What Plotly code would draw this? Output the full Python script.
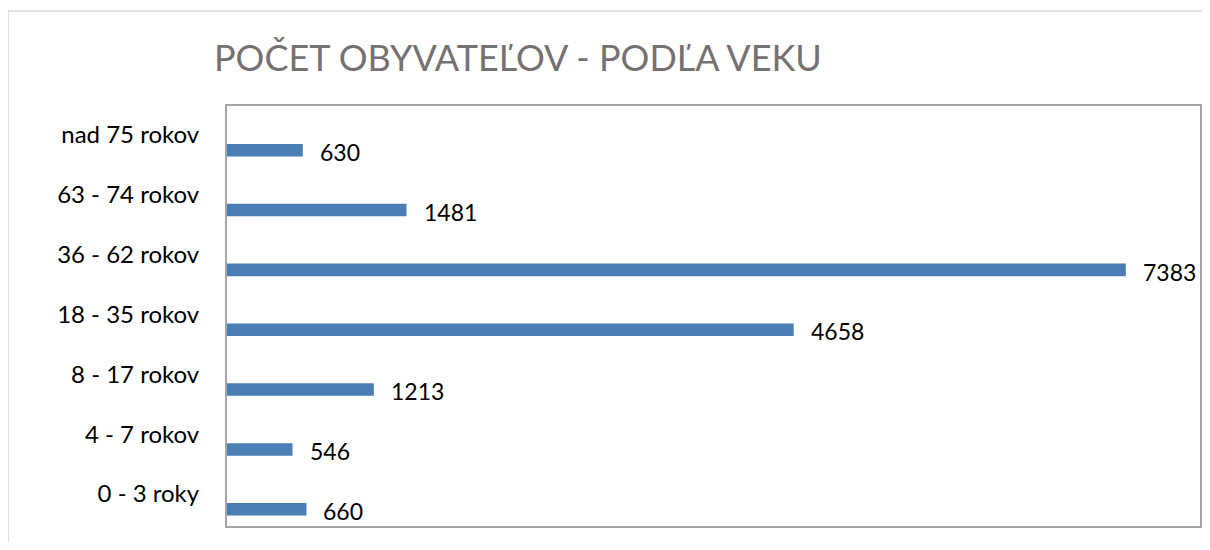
import plotly.graph_objects as go

categories = ["0 - 3 roky", "4 - 7 rokov", "8 - 17 rokov", "18 - 35 rokov",
              "36 - 62 rokov", "63 - 74 rokov", "nad 75 rokov"]
values = [660, 546, 1213, 4658, 7383, 1481, 630]
title_text = "POČET OBYVATEĽOV - PODĽA VEKU"

# page has an 8px body margin; keep figure inside the viewport (no scrollbars)
OFF = 8
W, H = 1194, 534
PL, PR, PT, PB = 226, 1201, 105, 527  # plot area in page px
L, R, T, B = PL - OFF, (W + OFF) - PR, PT - OFF, (H + OFF) - PB
pw, ph = PR - PL, PB - PT

def px_x(p):
    return (p - PL) / pw

def px_y(p):
    return (PB - p) / ph

FONT = "Lato"
BAR = "#4A7EB5"

fig = go.Figure()
fig.add_trace(go.Bar(
    x=values, y=categories, orientation="h",
    marker=dict(color=BAR, line=dict(width=0)),
    width=0.21, offset=-0.36, hoverinfo="x+y",
))

for v, c in zip(values, categories):
    fig.add_annotation(x=v, y=c, text=str(v), showarrow=False,
                       xanchor="left", yanchor="middle", xshift=15, yshift=-17,
                       font=dict(family=FONT, size=23, color="#000000"))

fig.add_annotation(xref="paper", yref="paper", x=px_x(518), y=px_y(57),
                   text=title_text, showarrow=False, xanchor="center", yanchor="middle",
                   font=dict(family=FONT, size=36, color="#767171"))

# plot area border
fig.add_shape(type="rect", xref="paper", yref="paper", x0=0, x1=1, y0=0, y1=1,
              line=dict(color="#a6a6a6", width=2), layer="above")
# outer chart frame
fig.add_shape(type="rect", xref="paper", yref="paper",
              x0=px_x(8), x1=px_x(1230), y0=px_y(580), y1=px_y(11),
              line=dict(color="#d9d9d9", width=1.5), layer="below")

fig.update_layout(
    width=W, height=H,
    margin=dict(l=L, r=R, t=T, b=B),
    paper_bgcolor="white", plot_bgcolor="white",
    showlegend=False,
    font=dict(family=FONT, color="#000000"),
    xaxis=dict(range=[0, 8000], showticklabels=False, showgrid=False,
               zeroline=False, showline=False, fixedrange=True),
    yaxis=dict(categoryorder="array", categoryarray=categories,
               showgrid=False, zeroline=False, showline=False,
               ticks="outside", ticklen=0, ticklabelstandoff=21,
               tickfont=dict(family=FONT, size=24, color="#000000"),
               fixedrange=True),
)

fig.write_html("out.html")
